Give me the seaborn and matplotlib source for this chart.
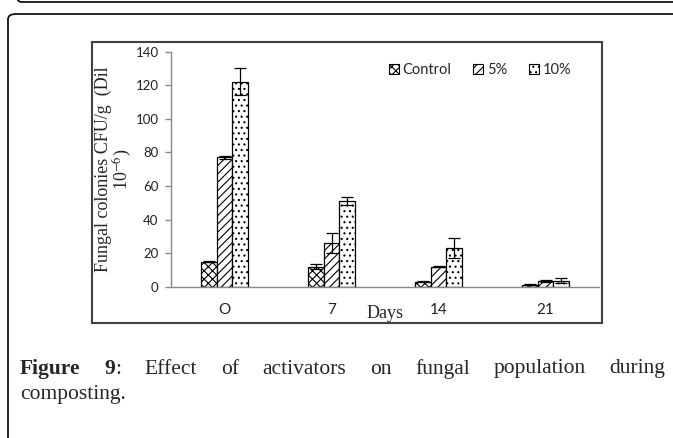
import numpy as np
import pandas as pd
import matplotlib
matplotlib.use('Agg')
import matplotlib.pyplot as plt
import seaborn as sns
from matplotlib.patches import Patch, Rectangle, FancyBboxPatch

# values
days = ['O', '7', '14', '21']
treatments = ['Control', '5%', '10%']
control = [15, 12, 3, 1.3]
pct5 = [77, 26, 12, 3.5]
pct10 = [122, 51, 23, 3.5]
control_err = [0.5, 1.5, 0.3, 0.3]
pct5_err = [1, 6, 0.3, 0.7]
pct10_err = [8, 2.3, 6, 1.5]
hatches = ['xxxx', '////', '...']

df = pd.DataFrame({
    'day': days * 3,
    'treatment': np.repeat(treatments, len(days)),
    'value': control + pct5 + pct10,
})
errs = [control_err, pct5_err, pct10_err]

sns.set_style('white')
plt.rcParams['mathtext.fontset'] = 'stix'
plt.rcParams['hatch.linewidth'] = 0.8

W, H = 673, 438
fig = plt.figure(figsize=(W / 100, H / 100), dpi=100)

def fx(px):
    return px / W

def fy(py):
    return 1 - py / H

# page frame lines
fig.patches.append(FancyBboxPatch((fx(13), fy(2)), fx(700), fy(-40) - fy(2),
                                  boxstyle='round,pad=0,rounding_size=0.012',
                                  transform=fig.transFigure, fill=False,
                                  edgecolor='black', lw=1.2))
fig.patches.append(FancyBboxPatch((fx(8), fy(470)), fx(700), fy(14) - fy(470),
                                  boxstyle='round,pad=0,rounding_size=0.012',
                                  transform=fig.transFigure, fill=False,
                                  edgecolor='black', lw=1.2))
# chart border
fig.patches.append(Rectangle((fx(92), fy(323)), fx(602) - fx(92), fy(42) - fy(323),
                             transform=fig.transFigure, fill=False,
                             edgecolor='#404040', lw=1.5))

ax = fig.add_axes([fx(171), fy(286.7), fx(599) - fx(171), fy(51.7) - fy(286.7)])
sns.barplot(data=df, x='day', y='value', hue='treatment', ax=ax, width=0.44,
            palette=['white'] * 3, edgecolor='black', linewidth=0.9,
            errorbar=None, legend=False)

for cont, h, e in zip(ax.containers, hatches, errs):
    xs = []
    for bar in cont:
        bar.set_hatch(h)
        xs.append(bar.get_x() + bar.get_width() / 2)
    ax.errorbar(xs, [b.get_height() for b in cont], yerr=e, fmt='none',
                ecolor='black', elinewidth=0.9, capsize=4, capthick=0.9)

ax.set_xlim(-0.5, 3.5)
ax.set_ylim(0, 140)
ax.set_yticks(range(0, 141, 20))
ax.set_xticks(range(4))
ax.set_xticks(np.arange(-0.5, 3.6, 1), minor=True)
ax.tick_params(axis='x', which='major', length=0, pad=12, labelsize=11, labelcolor='#222222')
ax.tick_params(axis='x', which='minor', length=5, color='#888888', width=1)
ax.tick_params(axis='y', length=4, color='#888888', width=1, labelsize=9.5,
               labelcolor='#222222', pad=5, left=True)
for lab in ax.get_xticklabels() + ax.get_yticklabels():
    lab.set_fontfamily('Lato')
sns.despine(ax=ax)
for s in ['left', 'bottom']:
    ax.spines[s].set_color('#888888')
    ax.spines[s].set_linewidth(1)

ax.set_xlabel('')
ax.set_ylabel('')
fig.text(fx(385), fy(313), 'Days', ha='center', va='center',
         family='Liberation Serif', fontsize=13)
fig.text(fx(114), fy(169), 'Fungal colonies CFU/g  (Dil\n10$^{-6}$)', ha='center',
         va='center', rotation=90, family='Liberation Serif', fontsize=13,
         linespacing=0.95)

handles = [Patch(facecolor='white', edgecolor='black', hatch=h, lw=0.8) for h in hatches]
ax.legend(handles, treatments, ncol=3, frameon=False, loc='center right',
          bbox_to_anchor=(fx(579), fy(70)), bbox_transform=fig.transFigure,
          prop={'family': 'Lato', 'size': 10.5}, handlelength=0.7, handleheight=0.7,
          handletextpad=0.25, columnspacing=1.5, borderpad=0)

# justified caption
line1 = [('Figure', 'bold', True), ('9', 'bold', True), (':', 'normal', False),
         ('Effect', 'normal', True), ('of', 'normal', True), ('activators', 'normal', True),
         ('on', 'normal', True), ('fungal', 'normal', True), ('population', 'normal', True),
         ('during', 'normal', True)]
left, right = 20, 665
renderer = fig.canvas.get_renderer()
texts = []
for word, weight, _ in line1:
    t = fig.text(0, fy(369), word, family='Liberation Serif', fontsize=15.5,
                 weight=weight, va='center', ha='left')
    texts.append(t)
widths = [t.get_window_extent(renderer).width for t in texts]
ngaps = sum(1 for w in line1[1:] if w[2])
gap = (right - left - sum(widths)) / ngaps
x = left
for i, (t, w) in enumerate(zip(texts, widths)):
    if i > 0 and line1[i][2]:
        x += gap
    t.set_x(fx(x))
    x += w
fig.text(fx(left), fy(394), 'composting.', family='Liberation Serif', fontsize=15.5,
         va='center', ha='left')

fig.savefig('out.png', dpi=100)
